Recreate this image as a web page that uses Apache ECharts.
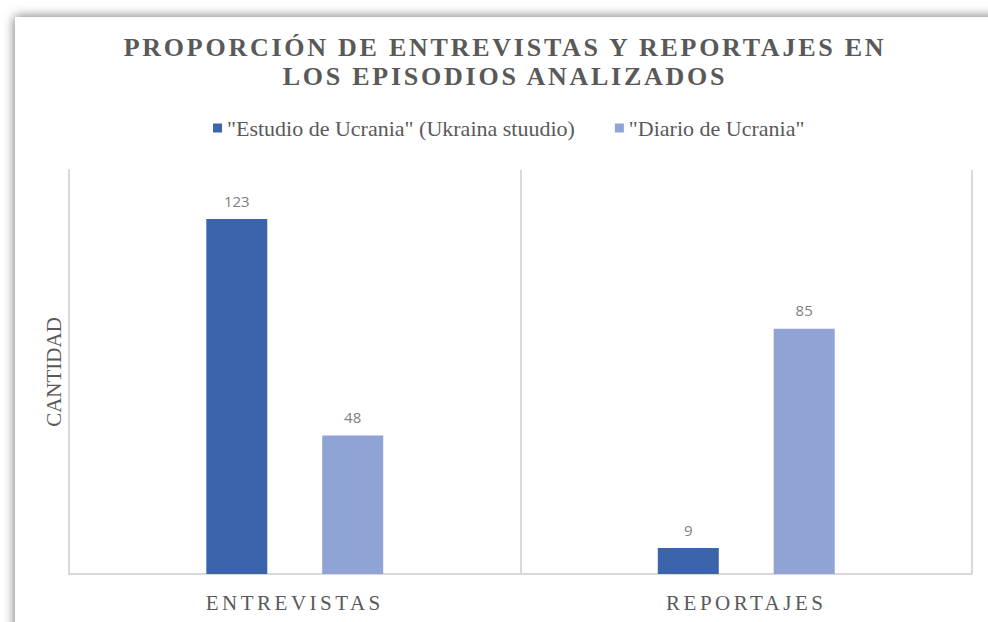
<!DOCTYPE html>
<html>
<head>
<meta charset="utf-8">
<script src="https://cdn.jsdelivr.net/npm/echarts@6/dist/echarts.min.js"></script>
<style>
    html, body { margin: 0; padding: 0; background: #fff; overflow: hidden; }
    #chart { width: 988px; height: 622px; }
</style>
</head>
<body>
<div id="chart"></div>
<script>
    const categories = ['ENTREVISTAS', 'REPORTAJES'];
    const seriesNames = ['"Estudio de Ucrania" (Ukraina stuudio)', '"Diario de Ucrania"'];
    const estudioValues = [123, 9];
    const diarioValues = [48, 85];
    const titleText = 'PROPORCIÓN DE ENTREVISTAS Y REPORTAJES EN\nLOS EPISODIOS ANALIZADOS';
    const yAxisName = 'CANTIDAD';

    const serif = 'Liberation Serif';
    const gridColor = '#d9d9d9';
    const textColor = '#595959';

    const chart = echarts.init(document.getElementById('chart'), null, { renderer: 'svg' });

    const option = {
        animation: false,
        backgroundColor: '#fff',
        graphic: [
            {
                // the card with its soft shadow on top and left
                type: 'rect',
                z: -10,
                silent: true,
                shape: { x: 15, y: 17, width: 1100, height: 800 },
                style: {
                    fill: '#fff',
                    shadowBlur: 12,
                    shadowColor: 'rgba(0,0,0,0.6)'
                }
            }
        ],
        title: {
            text: titleText,
            left: 505,
            textAlign: 'center',
            top: 33,
            padding: 0,
            textStyle: {
                fontFamily: serif,
                fontWeight: 'bold',
                fontSize: 26,
                lineHeight: 29,
                color: textColor
            }
        },
        legend: {
            data: seriesNames,
            left: 213,
            top: 117,
            padding: 0,
            icon: 'rect',
            itemWidth: 9,
            itemHeight: 9,
            itemGap: 40,
            textStyle: {
                fontFamily: serif,
                fontSize: 22,
                color: textColor
            }
        },
        grid: {
            left: 69,
            right: 16,
            top: 170,
            bottom: 48
        },
        xAxis: {
            type: 'category',
            data: categories,
            axisLine: { lineStyle: { color: gridColor, width: 2 } },
            axisTick: { show: false },
            axisLabel: {
                fontFamily: serif,
                fontSize: 21,
                color: textColor,
                margin: 18
            },
            splitLine: { show: true, interval: 0, lineStyle: { color: gridColor, width: 2 } }
        },
        yAxis: {
            type: 'value',
            min: 0,
            max: 140,
            name: yAxisName,
            nameLocation: 'middle',
            nameRotate: 90,
            nameGap: 5,
            nameTextStyle: {
                fontFamily: serif,
                fontSize: 21,
                color: textColor
            },
            axisLine: { show: true, lineStyle: { color: gridColor, width: 2 } },
            axisLabel: { show: false },
            axisTick: { show: false },
            splitLine: { show: false }
        },
        series: [
            {
                name: seriesNames[0],
                type: 'bar',
                data: estudioValues,
                barWidth: 61,
                barGap: '90%',
                itemStyle: { color: '#3c64ab' },
                label: {
                    show: true,
                    position: 'top',
                    distance: 11,
                    fontFamily: 'Open Sans',
                    fontSize: 15,
                    color: '#808080'
                }
            },
            {
                name: seriesNames[1],
                type: 'bar',
                data: diarioValues,
                barWidth: 61,
                barGap: '90%',
                itemStyle: { color: '#8fa3d5' },
                label: {
                    show: true,
                    position: 'top',
                    distance: 11,
                    fontFamily: 'Open Sans',
                    fontSize: 15,
                    color: '#808080'
                }
            }
        ]
    };

    chart.setOption(option);

    // spaced capitals for the title and the category names
    function spaceLetters() {
        document.querySelectorAll('#chart text').forEach(t => {
            const s = t.textContent.trim();
            if (s.startsWith('PROPORCIÓN') || s.startsWith('LOS EPISODIOS')) {
                t.setAttribute('letter-spacing', '2.75');
            } else if (categories.includes(s)) {
                t.setAttribute('letter-spacing', '3.5');
            }
        });
    }
    chart.on('finished', spaceLetters);
    setTimeout(spaceLetters, 0);
</script>
</body>
</html>
